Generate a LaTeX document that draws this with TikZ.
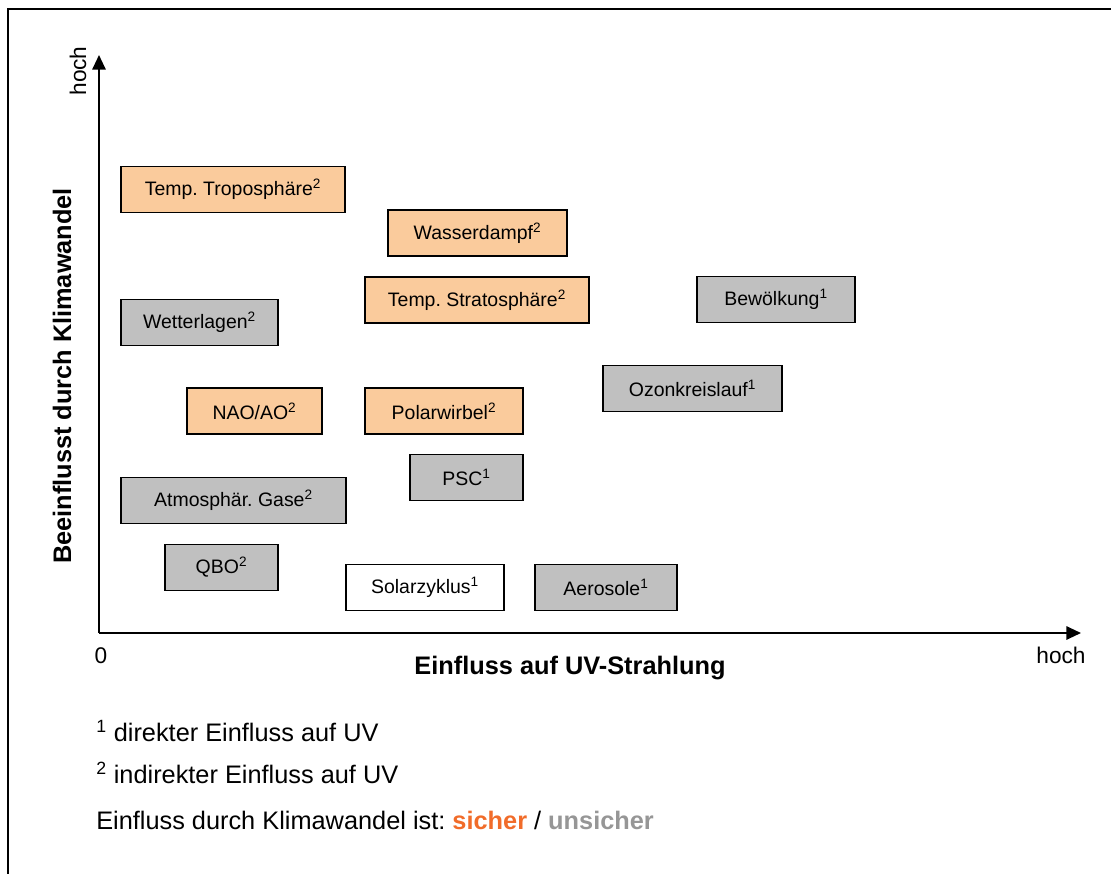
\documentclass[tikz,border=0pt]{standalone}
\usepackage{fontspec}
\setmainfont{Liberation Sans}
\usetikzlibrary{arrows.meta}
\frenchspacing

\definecolor{peach}{RGB}{250,203,156}
\definecolor{silver}{RGB}{192,192,192}
\definecolor{sure}{RGB}{241,108,42}
\definecolor{unsure}{RGB}{150,150,150}

\tikzstyle{box} = [rectangle, minimum height=34.5pt, inner sep=0pt, text centered, draw=black, line width=1.2pt]
\tikzstyle{wd} = [minimum width=#1*0.75pt]
\tikzstyle{sicher} = [box, fill=peach]
\tikzstyle{unsicher} = [box, fill=silver]
\tikzstyle{axis} = [line width=1.5pt, -{Triangle[length=11pt,width=10pt]}]
\tikzstyle{label} = [font=\fontsize{17pt}{20pt}\selectfont, inner sep=0pt]
\tikzstyle{title} = [font=\fontsize{19pt}{22pt}\selectfont\bfseries, inner sep=0pt]
\tikzstyle{legend} = [font=\fontsize{19pt}{22pt}\selectfont, inner sep=0pt, anchor=west]

\begin{document}
\begin{tikzpicture}[x=0.75pt, y=-0.75pt, every node/.style={font=\fontsize{14.6pt}{17pt}\selectfont}]
  \useasboundingbox (0,0) rectangle (1111,874);
  \draw [line width=1.8pt] (8,874) -- (8,9) -- (1111,9);

  \coordinate (origin) at (99,633);
  \coordinate (ytop) at (99,55);
  \coordinate (xend) at (1081,633);
  \draw [axis] (origin) -- (ytop);
  \draw [axis] (origin) -- (xend);

  \node (Null) [label] at (101,656) {0};
  \node (Hoch X) [label] at (1061,655) {hoch};
  \node (Hoch Y) [label, rotate=90] at (78,71) {hoch};
  \node (X Titel) [title] at (570,668) {Einfluss auf UV-Strahlung};
  \node (Y Titel) [title, rotate=90] at (62,376) {Beeinflusst durch Klimawandel};

  \node (Troposphaere) [sicher, wd=224] at (233,189.5) {Temp. Troposphäre\textsuperscript{2}};
  \node (Wasserdampf) [sicher, wd=179] at (477.5,233) {Wasserdampf\textsuperscript{2}};
  \node (Stratosphaere) [sicher, wd=224] at (477,300) {Temp. Stratosphäre\textsuperscript{2}};
  \node (Wetterlagen) [unsicher, wd=157] at (199.5,322.5) {Wetterlagen\textsuperscript{2}};
  \node (Bewoelkung) [unsicher, wd=158] at (776,299.5) {Bewölkung\textsuperscript{1}};
  \node (Ozonkreislauf) [unsicher, wd=179] at (692.5,388.5) {Ozonkreislauf\textsuperscript{1}};
  \node (NAO) [sicher, wd=135] at (254.5,411) {NAO/AO\textsuperscript{2}};
  \node (Polarwirbel) [sicher, wd=158] at (444,411) {Polarwirbel\textsuperscript{2}};
  \node (PSC) [unsicher, wd=113] at (466.5,477.5) {PSC\textsuperscript{1}};
  \node (Gase) [unsicher, wd=225] at (233.5,500.5) {Atmosphär. Gase\textsuperscript{2}};
  \node (QBO) [unsicher, wd=113] at (221.5,567.5) {QBO\textsuperscript{2}};
  \node (Solarzyklus) [box, fill=white, wd=158] at (425,587.5) {Solarzyklus\textsuperscript{1}};
  \node (Aerosole) [unsicher, wd=142] at (606,587.5) {Aerosole\textsuperscript{1}};

  \node (Legende 1) [legend] at (96,731) {\textsuperscript{1} direkter Einfluss auf UV};
  \node (Legende 2) [legend] at (96,773) {\textsuperscript{2} indirekter Einfluss auf UV};
  \node (Legende 3) [legend] at (96,820) {Einfluss durch Klimawandel ist: \textbf{\textcolor{sure}{sicher}} / \textbf{\textcolor{unsure}{unsicher}}};
\end{tikzpicture}
\end{document}
